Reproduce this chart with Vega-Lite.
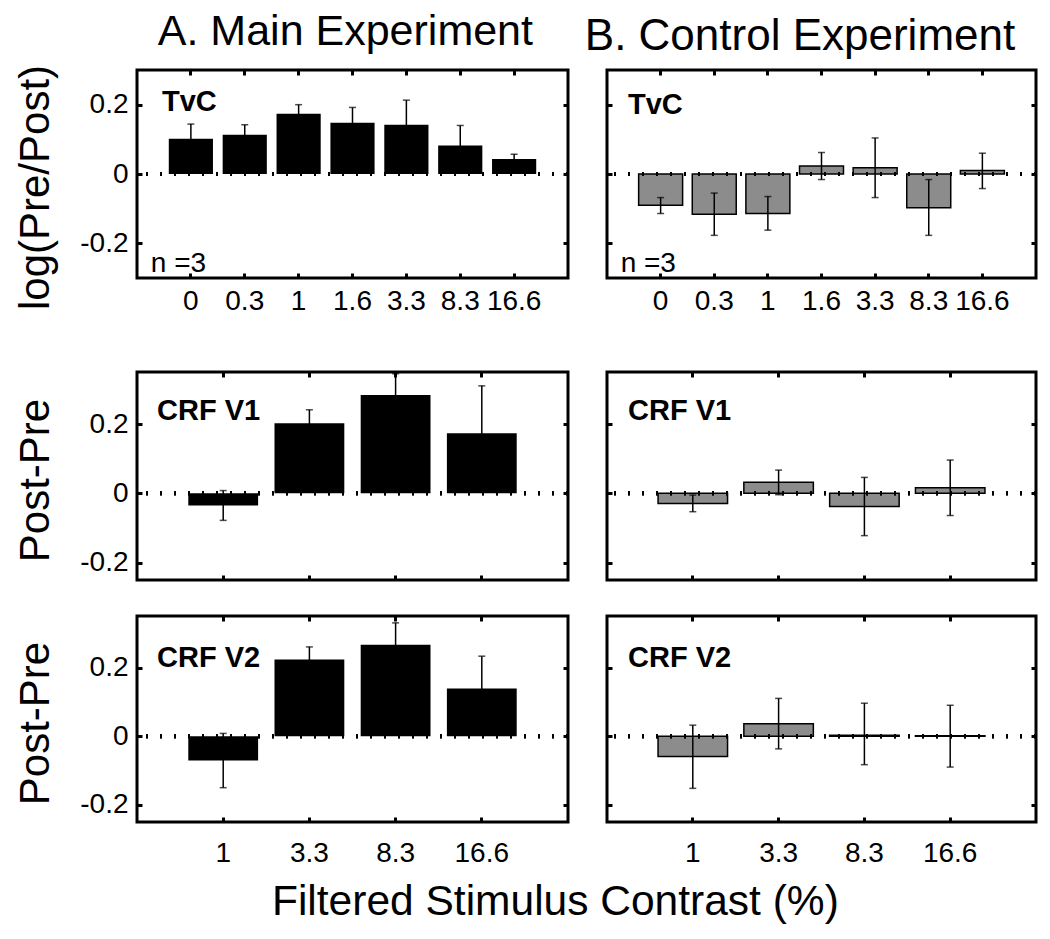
{
  "$schema": "https://vega.github.io/schema/vega-lite/v6.json",
  "background": "white",
  "padding": {"left": 13, "top": 10, "right": 5, "bottom": 5},
  "config": {
    "font": "Liberation Sans",
    "view": {"stroke": "black", "strokeWidth": 3},
    "axis": {
      "grid": false, "domain": false, "ticks": true, "tickColor": "black", "tickWidth": 3, "tickSize": -5,
      "labelColor": "black", "labelFont": "Liberation Sans", "labelFontSize": 28, "labelOverlap": false,
      "titleFont": "Liberation Sans", "titleFontSize": 42, "titleFontWeight": "normal", "titleColor": "black"
    },
    "axisX": {"labelAngle": 0},
    "title": {"font": "Liberation Sans", "color": "black"}
  },
  "datasets": {
    "tvcMain": [
      {"contrast": "0", "value": 0.102, "lo": 0.060, "hi": 0.144},
      {"contrast": "0.3", "value": 0.113, "lo": 0.084, "hi": 0.142},
      {"contrast": "1", "value": 0.174, "lo": 0.148, "hi": 0.200},
      {"contrast": "1.6", "value": 0.148, "lo": 0.104, "hi": 0.192},
      {"contrast": "3.3", "value": 0.142, "lo": 0.071, "hi": 0.213},
      {"contrast": "8.3", "value": 0.082, "lo": 0.024, "hi": 0.140},
      {"contrast": "16.6", "value": 0.043, "lo": 0.029, "hi": 0.057}
    ],
    "tvcCtrl": [
      {"contrast": "0", "value": -0.090, "lo": -0.114, "hi": -0.068},
      {"contrast": "0.3", "value": -0.116, "lo": -0.177, "hi": -0.055},
      {"contrast": "1", "value": -0.114, "lo": -0.162, "hi": -0.065},
      {"contrast": "1.6", "value": 0.023, "lo": -0.016, "hi": 0.062},
      {"contrast": "3.3", "value": 0.018, "lo": -0.068, "hi": 0.104},
      {"contrast": "8.3", "value": -0.097, "lo": -0.177, "hi": -0.016},
      {"contrast": "16.6", "value": 0.010, "lo": -0.042, "hi": 0.060}
    ],
    "v1Main": [
      {"contrast": "1", "value": -0.035, "lo": -0.078, "hi": 0.008},
      {"contrast": "3.3", "value": 0.202, "lo": 0.163, "hi": 0.241},
      {"contrast": "8.3", "value": 0.284, "lo": 0.223, "hi": 0.345},
      {"contrast": "16.6", "value": 0.173, "lo": 0.036, "hi": 0.310}
    ],
    "v1Ctrl": [
      {"contrast": "1", "value": -0.029, "lo": -0.053, "hi": -0.005},
      {"contrast": "3.3", "value": 0.032, "lo": -0.004, "hi": 0.067},
      {"contrast": "8.3", "value": -0.038, "lo": -0.122, "hi": 0.046},
      {"contrast": "16.6", "value": 0.016, "lo": -0.064, "hi": 0.096}
    ],
    "v2Main": [
      {"contrast": "1", "value": -0.071, "lo": -0.150, "hi": 0.008},
      {"contrast": "3.3", "value": 0.223, "lo": 0.186, "hi": 0.260},
      {"contrast": "8.3", "value": 0.266, "lo": 0.202, "hi": 0.330},
      {"contrast": "16.6", "value": 0.139, "lo": 0.045, "hi": 0.233}
    ],
    "v2Ctrl": [
      {"contrast": "1", "value": -0.059, "lo": -0.152, "hi": 0.032},
      {"contrast": "3.3", "value": 0.036, "lo": -0.037, "hi": 0.110},
      {"contrast": "8.3", "value": 0.003, "lo": -0.083, "hi": 0.096},
      {"contrast": "16.6", "value": 0.001, "lo": -0.090, "hi": 0.090}
    ]
  },
  "title": {"text": "Filtered Stimulus Contrast (%)", "orient": "bottom", "anchor": "middle", "fontSize": 42.5, "fontWeight": "normal", "offset": 12, "dx": 29},
  "spacing": 12,
  "hconcat": [
    {
      "title": {"text": "A. Main Experiment", "anchor": "middle", "fontSize": 43, "fontWeight": "normal", "offset": 9, "dx": 53},
      "spacing": 30,
      "vconcat": [
        {
          "width": 431, "height": 208,
          "view": {"stroke": "black", "strokeWidth": 3},
          "data": {"name": "tvcMain"},
          "title": {"text": "TvC", "anchor": "start", "frame": "group", "dx": 25, "offset": -53, "fontSize": 29, "fontWeight": "bold"},
          "resolve": {"axis": {"x": "independent", "y": "independent"}},
          "layer": [
            {"mark": {"type": "bar", "color": "black", "clip": true},
             "encoding": {
               "x": {"field": "contrast", "type": "nominal", "sort": null,
                     "scale": {"domain": ["0", "0.3", "1", "1.6", "3.3", "8.3", "16.6"], "paddingInner": 0.18, "paddingOuter": 0.59},
                     "axis": {"title": " ", "titleFontSize": 10, "titlePadding": 12, "labelPadding": 14}},
               "y": {"field": "value", "type": "quantitative", "scale": {"domain": [-0.3, 0.3]},
                     "axis": {"values": [-0.2, 0, 0.2], "labelExpr": "datum.value > 0.1 ? '0.2' : (datum.value < -0.1 ? '-0.2' : '0')", "labelPadding": 14, "title": "log(Pre/Post)", "titlePadding": 22, "titleY": 117}}
             }},
            {"mark": {"type": "rule", "color": "black", "strokeWidth": 1.5, "clip": true},
             "encoding": {"x": {"field": "contrast", "type": "nominal", "sort": null, "axis": null}, "y": {"field": "lo", "type": "quantitative", "axis": null}, "y2": {"field": "hi"}}},
            {"mark": {"type": "tick", "color": "black", "size": 7, "thickness": 1.5, "clip": true},
             "encoding": {"x": {"field": "contrast", "type": "nominal", "sort": null, "axis": null}, "y": {"field": "lo", "type": "quantitative", "axis": null}}},
            {"mark": {"type": "tick", "color": "black", "size": 7, "thickness": 1.5, "clip": true},
             "encoding": {"x": {"field": "contrast", "type": "nominal", "sort": null, "axis": null}, "y": {"field": "hi", "type": "quantitative", "axis": null}}},
            {"mark": {"type": "rule", "color": "black", "strokeDash": [2, 12], "strokeWidth": 4},
             "encoding": {"y": {"datum": 0, "axis": null}}},
            {"mark": {"type": "tick", "opacity": 0},
             "encoding": {"x": {"field": "contrast", "type": "nominal", "sort": null, "axis": {"orient": "top", "labels": false, "title": null}},
                          "y": {"field": "value", "type": "quantitative", "axis": {"orient": "right", "values": [-0.2, 0, 0.2], "labels": false, "title": null}}}},
            {"transform": [{"filter": "datum.contrast == '0'"}],
             "mark": {"type": "text", "align": "left", "baseline": "alphabetic", "fontSize": 28, "dx": -18, "color": "black"},
             "encoding": {"x": {"field": "contrast", "type": "nominal", "sort": null, "bandPosition": 0, "axis": null}, "y": {"datum": -0.282, "axis": null}, "text": {"value": "n =3"}}}
          ]
        },
        {
          "width": 431, "height": 208,
          "view": {"stroke": "black", "strokeWidth": 3},
          "data": {"name": "v1Main"},
          "title": {"text": "CRF V1", "anchor": "start", "frame": "group", "dx": 20, "offset": -55, "fontSize": 29, "fontWeight": "bold"},
          "resolve": {"axis": {"x": "independent", "y": "independent"}},
          "layer": [
            {"mark": {"type": "bar", "color": "black", "clip": true},
             "encoding": {
               "x": {"field": "contrast", "type": "nominal", "sort": null,
                     "scale": {"domain": ["1", "3.3", "8.3", "16.6"], "paddingInner": 0.19, "paddingOuter": 0.595},
                     "axis": {"labels": false, "title": null}},
               "y": {"field": "value", "type": "quantitative", "scale": {"domain": [-0.25, 0.35]},
                     "axis": {"values": [-0.2, 0, 0.2], "labelExpr": "datum.value > 0.1 ? '0.2' : (datum.value < -0.1 ? '-0.2' : '0')", "labelPadding": 14, "title": "Post-Pre", "titlePadding": 22, "titleY": 108}}
             }},
            {"mark": {"type": "rule", "color": "black", "strokeWidth": 1.5, "clip": true},
             "encoding": {"x": {"field": "contrast", "type": "nominal", "sort": null, "axis": null}, "y": {"field": "lo", "type": "quantitative", "axis": null}, "y2": {"field": "hi"}}},
            {"mark": {"type": "tick", "color": "black", "size": 7, "thickness": 1.5, "clip": true},
             "encoding": {"x": {"field": "contrast", "type": "nominal", "sort": null, "axis": null}, "y": {"field": "lo", "type": "quantitative", "axis": null}}},
            {"mark": {"type": "tick", "color": "black", "size": 7, "thickness": 1.5, "clip": true},
             "encoding": {"x": {"field": "contrast", "type": "nominal", "sort": null, "axis": null}, "y": {"field": "hi", "type": "quantitative", "axis": null}}},
            {"mark": {"type": "rule", "color": "black", "strokeDash": [2, 12], "strokeWidth": 4},
             "encoding": {"y": {"datum": 0, "axis": null}}},
            {"mark": {"type": "tick", "opacity": 0},
             "encoding": {"x": {"field": "contrast", "type": "nominal", "sort": null, "axis": {"orient": "top", "labels": false, "title": null}},
                          "y": {"field": "value", "type": "quantitative", "axis": {"orient": "right", "values": [-0.2, 0, 0.2], "labels": false, "title": null}}}}
          ]
        },
        {
          "width": 431, "height": 206,
          "view": {"stroke": "black", "strokeWidth": 3},
          "data": {"name": "v2Main"},
          "title": {"text": "CRF V2", "anchor": "start", "frame": "group", "dx": 20, "offset": -58, "fontSize": 29, "fontWeight": "bold"},
          "resolve": {"axis": {"x": "independent", "y": "independent"}},
          "layer": [
            {"mark": {"type": "bar", "color": "black", "clip": true},
             "encoding": {
               "x": {"field": "contrast", "type": "nominal", "sort": null,
                     "scale": {"domain": ["1", "3.3", "8.3", "16.6"], "paddingInner": 0.19, "paddingOuter": 0.595},
                     "axis": {"title": null, "labelPadding": 22}},
               "y": {"field": "value", "type": "quantitative", "scale": {"domain": [-0.25, 0.35]},
                     "axis": {"values": [-0.2, 0, 0.2], "labelExpr": "datum.value > 0.1 ? '0.2' : (datum.value < -0.1 ? '-0.2' : '0')", "labelPadding": 14, "title": "Post-Pre", "titlePadding": 22, "titleY": 107}}
             }},
            {"mark": {"type": "rule", "color": "black", "strokeWidth": 1.5, "clip": true},
             "encoding": {"x": {"field": "contrast", "type": "nominal", "sort": null, "axis": null}, "y": {"field": "lo", "type": "quantitative", "axis": null}, "y2": {"field": "hi"}}},
            {"mark": {"type": "tick", "color": "black", "size": 7, "thickness": 1.5, "clip": true},
             "encoding": {"x": {"field": "contrast", "type": "nominal", "sort": null, "axis": null}, "y": {"field": "lo", "type": "quantitative", "axis": null}}},
            {"mark": {"type": "tick", "color": "black", "size": 7, "thickness": 1.5, "clip": true},
             "encoding": {"x": {"field": "contrast", "type": "nominal", "sort": null, "axis": null}, "y": {"field": "hi", "type": "quantitative", "axis": null}}},
            {"mark": {"type": "rule", "color": "black", "strokeDash": [2, 12], "strokeWidth": 4},
             "encoding": {"y": {"datum": 0, "axis": null}}},
            {"mark": {"type": "tick", "opacity": 0},
             "encoding": {"x": {"field": "contrast", "type": "nominal", "sort": null, "axis": {"orient": "top", "labels": false, "title": null}},
                          "y": {"field": "value", "type": "quantitative", "axis": {"orient": "right", "values": [-0.2, 0, 0.2], "labels": false, "title": null}}}}
          ]
        }
      ]
    },
    {
      "title": {"text": "B. Control Experiment", "anchor": "middle", "fontSize": 44, "fontWeight": "normal", "offset": 8, "dx": -21.5},
      "spacing": 30,
      "vconcat": [
        {
          "width": 429, "height": 208,
          "view": {"stroke": "black", "strokeWidth": 3},
          "data": {"name": "tvcCtrl"},
          "title": {"text": "TvC", "anchor": "start", "frame": "group", "dx": 21, "offset": -51, "fontSize": 29, "fontWeight": "bold"},
          "resolve": {"axis": {"x": "independent", "y": "independent"}},
          "layer": [
            {"mark": {"type": "bar", "color": "#8c8c8c", "stroke": "black", "strokeWidth": 1.5, "clip": true},
             "encoding": {
               "x": {"field": "contrast", "type": "nominal", "sort": null,
                     "scale": {"domain": ["0", "0.3", "1", "1.6", "3.3", "8.3", "16.6"], "paddingInner": 0.18, "paddingOuter": 0.59},
                     "axis": {"title": " ", "titleFontSize": 10, "titlePadding": 12, "labelPadding": 14}},
               "y": {"field": "value", "type": "quantitative", "scale": {"domain": [-0.3, 0.3]},
                     "axis": {"values": [-0.2, 0, 0.2], "labels": false, "title": null}}
             }},
            {"mark": {"type": "rule", "color": "black", "strokeWidth": 1.5, "clip": true},
             "encoding": {"x": {"field": "contrast", "type": "nominal", "sort": null, "axis": null}, "y": {"field": "lo", "type": "quantitative", "axis": null}, "y2": {"field": "hi"}}},
            {"mark": {"type": "tick", "color": "black", "size": 7, "thickness": 1.5, "clip": true},
             "encoding": {"x": {"field": "contrast", "type": "nominal", "sort": null, "axis": null}, "y": {"field": "lo", "type": "quantitative", "axis": null}}},
            {"mark": {"type": "tick", "color": "black", "size": 7, "thickness": 1.5, "clip": true},
             "encoding": {"x": {"field": "contrast", "type": "nominal", "sort": null, "axis": null}, "y": {"field": "hi", "type": "quantitative", "axis": null}}},
            {"mark": {"type": "rule", "color": "black", "strokeDash": [2, 12], "strokeWidth": 4},
             "encoding": {"y": {"datum": 0, "axis": null}}},
            {"mark": {"type": "tick", "opacity": 0},
             "encoding": {"x": {"field": "contrast", "type": "nominal", "sort": null, "axis": {"orient": "top", "labels": false, "title": null}},
                          "y": {"field": "value", "type": "quantitative", "axis": {"orient": "right", "values": [-0.2, 0, 0.2], "labels": false, "title": null}}}},
            {"transform": [{"filter": "datum.contrast == '0'"}],
             "mark": {"type": "text", "align": "left", "baseline": "alphabetic", "fontSize": 28, "dx": -18, "color": "black"},
             "encoding": {"x": {"field": "contrast", "type": "nominal", "sort": null, "bandPosition": 0, "axis": null}, "y": {"datum": -0.282, "axis": null}, "text": {"value": "n =3"}}}
          ]
        },
        {
          "width": 429, "height": 208,
          "view": {"stroke": "black", "strokeWidth": 3},
          "data": {"name": "v1Ctrl"},
          "title": {"text": "CRF V1", "anchor": "start", "frame": "group", "dx": 21, "offset": -55, "fontSize": 29, "fontWeight": "bold"},
          "resolve": {"axis": {"x": "independent", "y": "independent"}},
          "layer": [
            {"mark": {"type": "bar", "color": "#8c8c8c", "stroke": "black", "strokeWidth": 1.5, "clip": true},
             "encoding": {
               "x": {"field": "contrast", "type": "nominal", "sort": null,
                     "scale": {"domain": ["1", "3.3", "8.3", "16.6"], "paddingInner": 0.19, "paddingOuter": 0.595},
                     "axis": {"labels": false, "title": null}},
               "y": {"field": "value", "type": "quantitative", "scale": {"domain": [-0.25, 0.35]},
                     "axis": {"values": [-0.2, 0, 0.2], "labels": false, "title": null}}
             }},
            {"mark": {"type": "rule", "color": "black", "strokeWidth": 1.5, "clip": true},
             "encoding": {"x": {"field": "contrast", "type": "nominal", "sort": null, "axis": null}, "y": {"field": "lo", "type": "quantitative", "axis": null}, "y2": {"field": "hi"}}},
            {"mark": {"type": "tick", "color": "black", "size": 7, "thickness": 1.5, "clip": true},
             "encoding": {"x": {"field": "contrast", "type": "nominal", "sort": null, "axis": null}, "y": {"field": "lo", "type": "quantitative", "axis": null}}},
            {"mark": {"type": "tick", "color": "black", "size": 7, "thickness": 1.5, "clip": true},
             "encoding": {"x": {"field": "contrast", "type": "nominal", "sort": null, "axis": null}, "y": {"field": "hi", "type": "quantitative", "axis": null}}},
            {"mark": {"type": "rule", "color": "black", "strokeDash": [2, 12], "strokeWidth": 4},
             "encoding": {"y": {"datum": 0, "axis": null}}},
            {"mark": {"type": "tick", "opacity": 0},
             "encoding": {"x": {"field": "contrast", "type": "nominal", "sort": null, "axis": {"orient": "top", "labels": false, "title": null}},
                          "y": {"field": "value", "type": "quantitative", "axis": {"orient": "right", "values": [-0.2, 0, 0.2], "labels": false, "title": null}}}}
          ]
        },
        {
          "width": 429, "height": 206,
          "view": {"stroke": "black", "strokeWidth": 3},
          "data": {"name": "v2Ctrl"},
          "title": {"text": "CRF V2", "anchor": "start", "frame": "group", "dx": 21, "offset": -58, "fontSize": 29, "fontWeight": "bold"},
          "resolve": {"axis": {"x": "independent", "y": "independent"}},
          "layer": [
            {"mark": {"type": "bar", "color": "#8c8c8c", "stroke": "black", "strokeWidth": 1.5, "clip": true},
             "encoding": {
               "x": {"field": "contrast", "type": "nominal", "sort": null,
                     "scale": {"domain": ["1", "3.3", "8.3", "16.6"], "paddingInner": 0.19, "paddingOuter": 0.595},
                     "axis": {"title": null, "labelPadding": 22}},
               "y": {"field": "value", "type": "quantitative", "scale": {"domain": [-0.25, 0.35]},
                     "axis": {"values": [-0.2, 0, 0.2], "labels": false, "title": null}}
             }},
            {"mark": {"type": "rule", "color": "black", "strokeWidth": 1.5, "clip": true},
             "encoding": {"x": {"field": "contrast", "type": "nominal", "sort": null, "axis": null}, "y": {"field": "lo", "type": "quantitative", "axis": null}, "y2": {"field": "hi"}}},
            {"mark": {"type": "tick", "color": "black", "size": 7, "thickness": 1.5, "clip": true},
             "encoding": {"x": {"field": "contrast", "type": "nominal", "sort": null, "axis": null}, "y": {"field": "lo", "type": "quantitative", "axis": null}}},
            {"mark": {"type": "tick", "color": "black", "size": 7, "thickness": 1.5, "clip": true},
             "encoding": {"x": {"field": "contrast", "type": "nominal", "sort": null, "axis": null}, "y": {"field": "hi", "type": "quantitative", "axis": null}}},
            {"mark": {"type": "rule", "color": "black", "strokeDash": [2, 12], "strokeWidth": 4},
             "encoding": {"y": {"datum": 0, "axis": null}}},
            {"mark": {"type": "tick", "opacity": 0},
             "encoding": {"x": {"field": "contrast", "type": "nominal", "sort": null, "axis": {"orient": "top", "labels": false, "title": null}},
                          "y": {"field": "value", "type": "quantitative", "axis": {"orient": "right", "values": [-0.2, 0, 0.2], "labels": false, "title": null}}}}
          ]
        }
      ]
    }
  ]
}
